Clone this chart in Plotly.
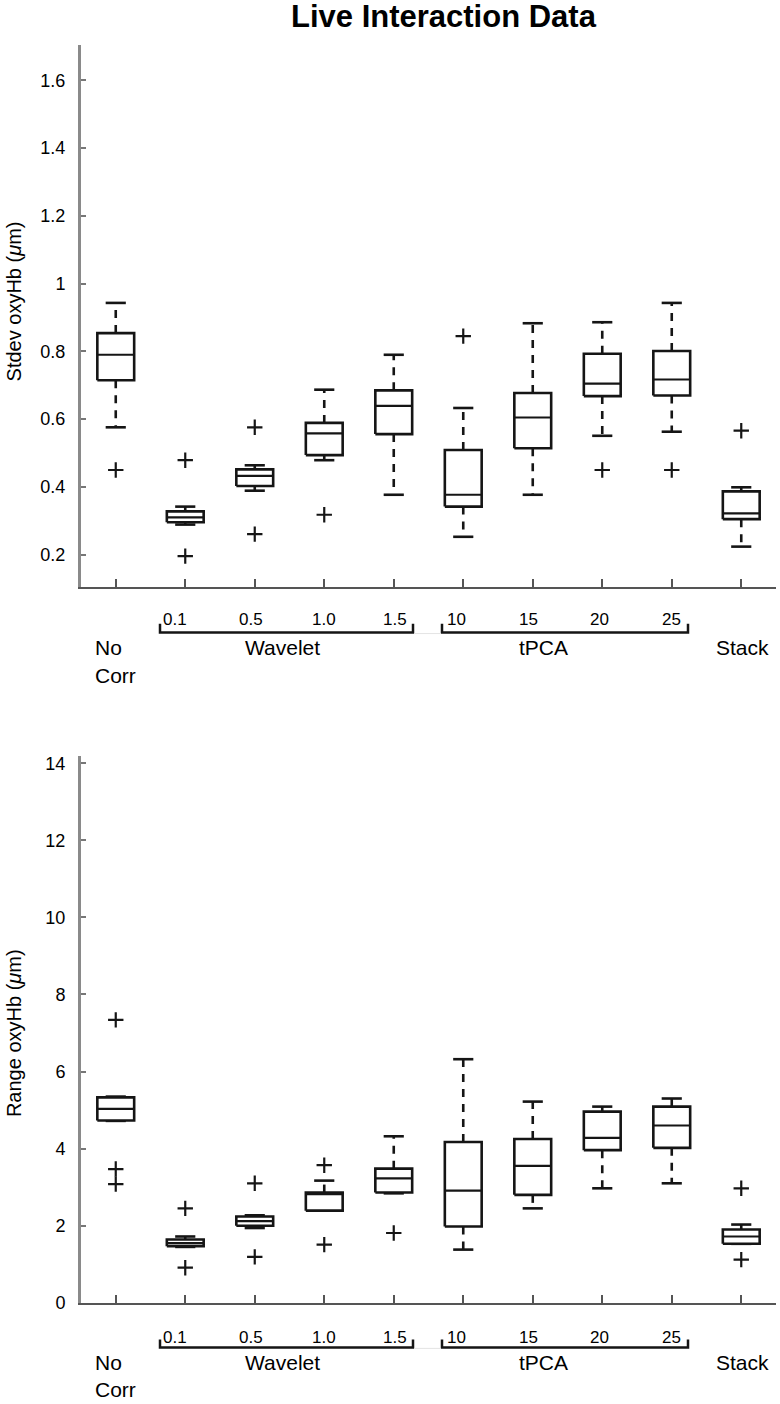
import plotly.graph_objects as go

# ---------------- data ----------------
categories = ["No Corr", "W 0.1", "W 0.5", "W 1.0", "W 1.5", "T 10", "T 15", "T 20", "T 25", "Stack"]
group_ticks = ["0.1", "0.5", "1.0", "1.5", "10", "15", "20", "25"]

# Stdev oxyHb
sd_hi  = [0.943, 0.342, 0.464, 0.687, 0.790, 0.633, 0.883, 0.886, 0.943, 0.399]
sd_q3  = [0.854, 0.328, 0.452, 0.589, 0.685, 0.509, 0.677, 0.793, 0.801, 0.387]
sd_med = [0.790, 0.310, 0.433, 0.558, 0.639, 0.377, 0.605, 0.705, 0.717, 0.322]
sd_q1  = [0.715, 0.296, 0.403, 0.494, 0.556, 0.342, 0.514, 0.668, 0.670, 0.305]
sd_lo  = [0.576, 0.289, 0.389, 0.479, 0.377, 0.253, 0.377, 0.551, 0.563, 0.224]
sd_out = [[0.45], [0.479, 0.196], [0.576, 0.261], [0.318], [], [0.845], [], [0.45], [0.45], [0.566]]

# Range oxyHb
rg_hi  = [5.35, 1.72, 2.27, 3.17, 4.32, 6.32, 5.22, 5.09, 5.30, 2.03]
rg_q3  = [5.33, 1.64, 2.24, 2.86, 3.48, 4.17, 4.25, 4.96, 5.09, 1.90]
rg_med = [5.03, 1.55, 2.12, 2.82, 3.23, 2.91, 3.55, 4.28, 4.60, 1.72]
rg_q1  = [4.73, 1.47, 2.00, 2.39, 2.86, 1.98, 2.80, 3.96, 4.02, 1.53]
rg_lo  = [4.72, 1.45, 1.94, 2.39, 2.84, 1.38, 2.45, 2.97, 3.10, 1.53]
rg_out = [[7.34, 3.47, 3.08], [2.45, 0.91], [3.10, 1.19], [3.57, 1.51], [1.81], [], [], [], [], [2.97, 1.12]]

W = 780
H = 1404
FONT = "Liberation Sans, Arial, sans-serif"
INK = "#151515"


def px(x):
    return x / W


def py(y):
    return 1 - y / H


fig = go.Figure()


def add_boxes(hi, q3, med, q1, lo, outs, xa, ya):
    hw, cw = 0.265, 0.145
    bx, by, mx, my, wx, wy, cx, cy, ox, oy = [], [], [], [], [], [], [], [], [], []
    for i in range(len(categories)):
        p = i + 1
        bx += [p - hw, p + hw, p + hw, p - hw, p - hw, None]
        by += [q1[i], q1[i], q3[i], q3[i], q1[i], None]
        mx += [p - hw, p + hw, None]
        my += [med[i], med[i], None]
        if hi[i] > q3[i] + 1e-9:
            wx += [p, p, None]
            wy += [q3[i], hi[i], None]
        if lo[i] < q1[i] - 1e-9:
            wx += [p, p, None]
            wy += [q1[i], lo[i], None]
        cx += [p - cw, p + cw, None, p - cw, p + cw, None]
        cy += [hi[i], hi[i], None, lo[i], lo[i], None]
        for v in outs[i]:
            ox.append(p)
            oy.append(v)
    common = dict(xaxis=xa, yaxis=ya, showlegend=False, hoverinfo="skip")
    fig.add_trace(go.Scatter(x=wx, y=wy, mode="lines",
                             line=dict(color=INK, width=2.6, dash="8px,7px"), **common))
    fig.add_trace(go.Scatter(x=cx, y=cy, mode="lines",
                             line=dict(color=INK, width=2.6), **common))
    fig.add_trace(go.Scatter(x=bx, y=by, mode="lines", fill="toself", fillcolor="white",
                             line=dict(color=INK, width=2.6), **common))
    fig.add_trace(go.Scatter(x=mx, y=my, mode="lines",
                             line=dict(color=INK, width=2.2), **common))
    fig.add_trace(go.Scatter(x=ox, y=oy, mode="markers",
                             marker=dict(symbol="cross-thin", size=11,
                                         line=dict(width=2.2, color=INK)), **common))


add_boxes(sd_hi, sd_q3, sd_med, sd_q1, sd_lo, sd_out, "x", "y")
add_boxes(rg_hi, rg_q3, rg_med, rg_q1, rg_lo, rg_out, "x2", "y2")

xdom = [px(81), px(776)]
xcommon = dict(domain=xdom, range=[0.5, 10.5], tickvals=list(range(1, 11)),
               showticklabels=False, ticks="inside", ticklen=8, tickwidth=2,
               tickcolor="#555", showline=True, linecolor="#555", linewidth=2,
               zeroline=False, showgrid=False, fixedrange=True)
ycommon = dict(ticks="inside", ticklen=5, tickwidth=2, tickcolor="#777",
               showline=True, linecolor="#8a8a8a", linewidth=3, zeroline=False,
               showgrid=False, tickfont=dict(family=FONT, size=18, color="black"),
               ticklabelstandoff=9, fixedrange=True)

sd_tickvals = [0.2, 0.4, 0.6, 0.8, 1.0, 1.2, 1.4, 1.6]
sd_ticktext = ["0.2", "0.4", "0.6", "0.8", "1", "1.2", "1.4", "1.6"]
rg_tickvals = [0, 2, 4, 6, 8, 10, 12, 14]

fig.update_layout(
    width=W, height=H, autosize=False,
    margin=dict(l=0, r=0, t=0, b=0),
    paper_bgcolor="white", plot_bgcolor="white",
    xaxis=dict(anchor="y", **xcommon),
    yaxis=dict(anchor="x", domain=[py(590), py(43)], range=[0.105, 1.705],
               tickvals=sd_tickvals, ticktext=sd_ticktext, **ycommon),
    xaxis2=dict(anchor="y2", **xcommon),
    yaxis2=dict(anchor="x2", domain=[py(1312), py(760)], range=[0, 14.2],
                tickvals=rg_tickvals, ticktext=[str(v) for v in rg_tickvals], **ycommon),
)

annotations = []
shapes = []


def note(text, x, y, size, xref="paper", xanchor="center", xshift=0, angle=0):
    annotations.append(dict(text=text, x=x, y=y, xref=xref, yref="paper",
                            xanchor=xanchor, yanchor="middle", xshift=xshift,
                            textangle=angle, showarrow=False,
                            font=dict(family=FONT, size=size, color="black")))


# title
note("<b>Live Interaction Data</b>", px(444), py(15), 31)

# axis titles
note("Stdev oxyHb (<i>μ</i>m)", px(14), py(302), 20, angle=-90)
note("Range oxyHb (<i>μ</i>m)", px(14), py(1040), 20, angle=-90)

num_shift = [-10, -4, 0, 1, -7, -4, -3, 0]


def add_xlabels(xa, num_y, br_top, br_bot, lab_y, corr_y):
    for k, t in enumerate(group_ticks):
        note(t, k + 2, py(num_y), 17, xref=xa, xshift=num_shift[k])
    note("No", px(93), py(lab_y), 21, xanchor="left")
    note("Corr", px(93), py(corr_y), 21, xanchor="left")
    note("Wavelet", px(282), py(lab_y), 21)
    note("tPCA", px(543), py(lab_y), 21)
    note("Stack", px(742), py(lab_y), 21)
    for x0, x1 in [(160, 413), (442, 688)]:
        shapes.append(dict(type="path", xref="paper", yref="paper",
                           path=f"M {px(x0)},{py(br_top)} L {px(x0)},{py(br_bot)} "
                                f"L {px(x1)},{py(br_bot)} L {px(x1)},{py(br_top)}",
                           line=dict(color=INK, width=2.5)))
    shapes.append(dict(type="line", xref="paper", yref="paper",
                       x0=px(414), x1=px(441), y0=py(br_bot + 1), y1=py(br_bot + 1),
                       line=dict(color="#e4e4e4", width=1)))


add_xlabels("x", 623, 627, 636, 651, 679)
add_xlabels("x2", 1347, 1349, 1357, 1372, 1399)

fig.update_layout(annotations=annotations, shapes=shapes)

fig.write_html(
    "out.html",
    config={"displayModeBar": False, "staticPlot": True},
    post_script="document.body.style.margin='0px';document.body.style.overflow='hidden';"
                "document.documentElement.style.overflow='hidden';",
)
